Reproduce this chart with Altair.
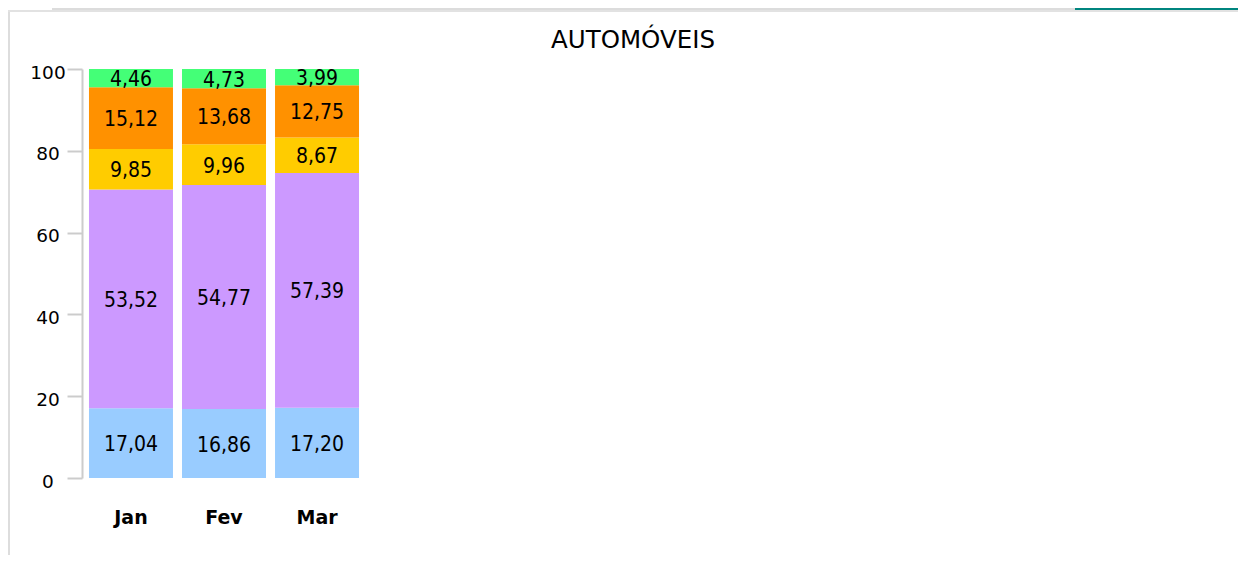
import altair as alt
import pandas as pd

# ---- data ----
meses = ["Jan", "Fev", "Mar"]
series = ["Série 1", "Série 2", "Série 3", "Série 4", "Série 5"]  # bottom -> top
cores = ["#99ccff", "#cc99ff", "#ffcc00", "#ff9100", "#44ff77"]
serie1 = [17.04, 16.86, 17.20]
serie2 = [53.52, 54.77, 57.39]
serie3 = [9.85, 9.96, 8.67]
serie4 = [15.12, 13.68, 12.75]
serie5 = [4.46, 4.73, 3.99]
eixo_y = [0, 20, 40, 60, 80, 100]
titulo = "AUTOMÓVEIS"

rows = []
for i, (s, vals) in enumerate(zip(series, [serie1, serie2, serie3, serie4, serie5])):
    for m, v in zip(meses, vals):
        rows.append({"mes": m, "serie": s, "ordem": i, "valor": v})
df = pd.DataFrame(rows)

FONT_C = "'DejaVu Sans Condensed', 'DejaVu Sans', sans-serif"
FONT = "'DejaVu Sans', sans-serif"

base = alt.Chart(df).transform_stack(
    stack="valor", groupby=["mes"], as_=["y0", "y1"], sort=[alt.SortField("ordem")]
).transform_calculate(
    mid="(datum.y0 + datum.y1) / 2",
    rotulo="replace(format(datum.valor, '.2f'), '.', ',')",
)

x_enc = alt.X(
    "mes:N", sort=meses,
    scale=alt.Scale(range=[0, 284], paddingInner=0.097, paddingOuter=0.075),
    axis=alt.Axis(title=None, labelAngle=0, ticks=False, tickSize=0, domain=False,
                  labelFont=FONT, labelFontSize=19, labelFontWeight="bold",
                  labelColor="#000000", labelPadding=45, labelBaseline="alphabetic"),
)
y_scale = alt.Scale(domain=[0, 100], nice=False, zero=True)

bars = base.mark_bar().encode(
    x=x_enc,
    y=alt.Y("y0:Q", scale=y_scale,
            axis=alt.Axis(values=eixo_y, title=None, grid=False, tickSize=15,
                          tickColor="#cccccc", tickWidth=2, domainColor="#cccccc",
                          domainWidth=2, labelFont=FONT, labelFontSize=18.5,
                          labelColor="#000000", labelAlign="center",
                          labelBaseline="middle", labelPadding=19.5, labelOffset=3)),
    y2="y1:Q",
    color=alt.Color("serie:N", scale=alt.Scale(domain=series, range=cores), legend=None),
)

texts = base.mark_text(font=FONT_C, fontSize=21, color="#000000", baseline="middle",
                       dy=2).encode(
    x=alt.X("mes:N", sort=meses),
    y=alt.Y("mid:Q", scale=y_scale),
    text="rotulo:N",
)

deco = alt.Chart(pd.DataFrame({"d": [0]}))
title_mark = deco.mark_text(font=FONT, fontSize=24.5, color="#000000",
                            align="center", baseline="alphabetic").encode(
    x=alt.value(551), y=alt.value(-21), text=alt.value(titulo))
left_border = deco.mark_rule(color="#dddddd", strokeWidth=2).encode(
    x=alt.value(-73), y=alt.value(-58), y2=alt.value(486))
top_border = deco.mark_rule(color="#e2e2e2", strokeWidth=2).encode(
    x=alt.value(-74), x2=alt.value(1156), y=alt.value(-58))
gray_head = deco.mark_rect(color="#dcdcdc").encode(
    x=alt.value(-30), x2=alt.value(993), y=alt.value(-61), y2=alt.value(-59))
teal_head = deco.mark_rect(color="#00857f").encode(
    x=alt.value(993), x2=alt.value(1156), y=alt.value(-61), y2=alt.value(-59))

chart = alt.layer(bars, texts, title_mark, left_border, top_border, gray_head, teal_head).properties(
    width=1102, height=409,
    background="#ffffff",
    autosize=alt.AutoSizeParams(type="none"),
    padding={"left": 74, "top": 61, "right": 54, "bottom": 77},
).configure_view(strokeWidth=0)

chart.save("out.html", embed_options={"renderer": "svg", "actions": False})
